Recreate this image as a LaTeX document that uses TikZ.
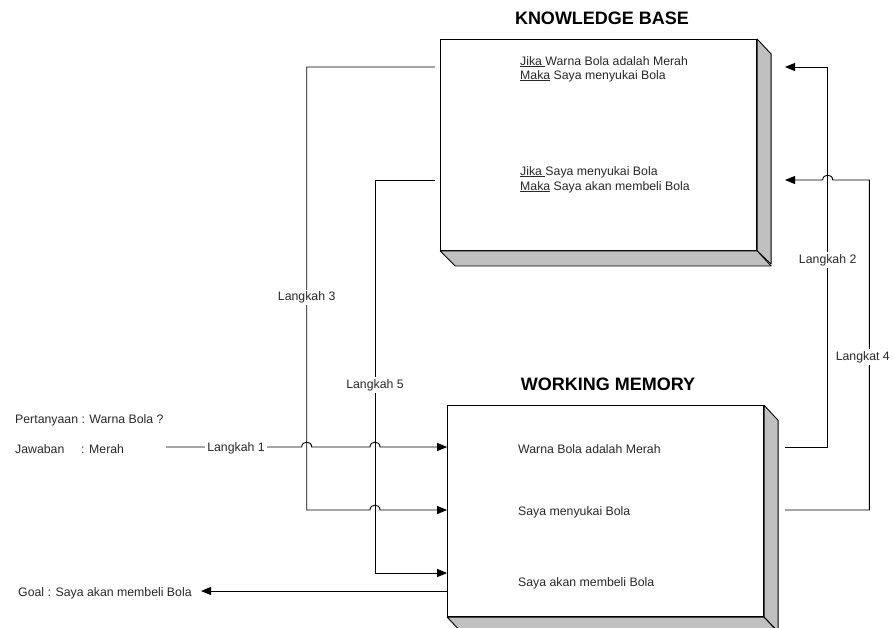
\documentclass[tikz,border=0pt]{standalone}
\usepackage{fontspec}
\setmainfont{Liberation Sans}
\usetikzlibrary{arrows.meta}
\definecolor{sidegray}{RGB}{192,192,192}
\definecolor{ink}{RGB}{40,40,40}

\begin{document}
\begin{tikzpicture}[x=1pt,y=-1pt,
  every node/.style={inner sep=0pt, text=ink},
  txt/.style={font=\fontsize{12.3}{14}\selectfont, anchor=base west},
  lbl/.style={font=\fontsize{12.3}{14}\selectfont, anchor=base, fill=white, inner xsep=2pt, inner ysep=2pt},
  title/.style={font=\bfseries\fontsize{18}{20}\selectfont, anchor=base, text=black},
  box/.style={draw=black, fill=white, line width=0.9pt, minimum width=316pt, minimum height=211pt},
  side/.style={draw=black, fill=sidegray, line width=0.9pt, line join=round},
  wire/.style={draw=black, line width=0.9pt},
  arr/.style={wire, -{Triangle[length=10pt,width=8pt]}},
]
\useasboundingbox (0,0) rectangle (894,627);
\begin{scope}
\clip (0,0) rectangle (894,627);

% ---------- Knowledge base ----------
\node[title] (kbt) at (602,24) {KNOWLEDGE BASE};
\node[box] (kb) at (598.7,145) {};
\path[side] (kb.north east) -- ++(14,15) -- ++(0,210) -- (kb.south east) -- cycle;
\path[side] (kb.south west) -- (kb.south east) -- ++(14,15) -- ++(-316,0) -- cycle;

\node[txt] (r1a) at (520,65) {\underline{Jika }Warna Bola adalah Merah};
\node[txt] (r1b) at (520,79) {\underline{Maka} Saya menyukai Bola};
\node[txt] (r2a) at (520,175) {\underline{Jika }Saya menyukai Bola};
\node[txt] (r2b) at (520,190) {\underline{Maka} Saya akan membeli Bola};

% ---------- Working memory ----------
\node[title] (wmt) at (608,390) {WORKING MEMORY};
\node[box] (wm) at (605.6,511.2) {};
\path[side] (wm.north east) -- ++(14,15) -- ++(0,211) -- (wm.south east) -- cycle;
\path[side] (wm.south west) -- (wm.south east) -- ++(14,15) -- ++(-316.7,0) -- cycle;

\node[txt] (f1) at (518,453.3) {Warna Bola adalah Merah};
\node[txt] (f2) at (518,515.7) {Saya menyukai Bola};
\node[txt] (f3) at (518,586) {Saya akan membeli Bola};

% ---------- Question, answer and goal ----------
\node[txt] (q) at (15,423.3) {Pertanyaan : Warna Bola ?};
\node[txt] (a) at (15,453.3) {Jawaban};
\node[txt] (am) at (81,453.3) {: Merah};
\node[txt] (goal) at (18,596) {Goal : Saya akan membeli Bola};

% ---------- Connection points ----------
\coordinate (s1) at (166,447);
\coordinate (kb3) at (435,67);
\coordinate (kb5) at (435,180);
\coordinate (wm2) at (785,447);
\coordinate (wm4) at (785,510);
\coordinate (kb2) at (785,67);
\coordinate (kb4) at (785,180);
\coordinate (goaltip) at (201,591);

% Langkah 1
\draw[arr] (s1) -- (301.7,447) .. controls (301.7,440.5) and (311.7,440.5) .. (311.7,447)
  -- (370,447) .. controls (370,440.5) and (380,440.5) .. (380,447) -- (wm.west |- s1);
\node[lbl] (l1) at (236,451.7) {Langkah 1};

% Langkah 3
\draw[arr] (kb3) -- (306.7,67) -- (306.7,510) -- (370,510)
  .. controls (370,503.5) and (380,503.5) .. (380,510) -- (wm.west |- 0,510);
\node[lbl] (l3) at (306.7,300.7) {Langkah 3};

% Langkah 5
\draw[arr] (kb5) -- (375,180) -- (375,573) -- (wm.west |- 0,573);
\node[lbl] (l5) at (375,388) {Langkah 5};

% Langkah 2
\draw[arr] (wm2) -- (827.7,447) -- (827.7,67) -- (kb2);
\node[lbl] (l2) at (827.7,263.3) {Langkah 2};

% Langkah 4
\draw[arr] (wm4) -- (869.3,510) -- (869.3,180) -- (832.7,180)
  .. controls (832.7,173.5) and (822.7,173.5) .. (822.7,180) -- (kb4);
\node[lbl, anchor=base east] (l4) at (892,360) {Langkat 4};

% Goal
\draw[arr] (wm.west |- goaltip) -- (goaltip);
\end{scope}
\end{tikzpicture}
\end{document}
